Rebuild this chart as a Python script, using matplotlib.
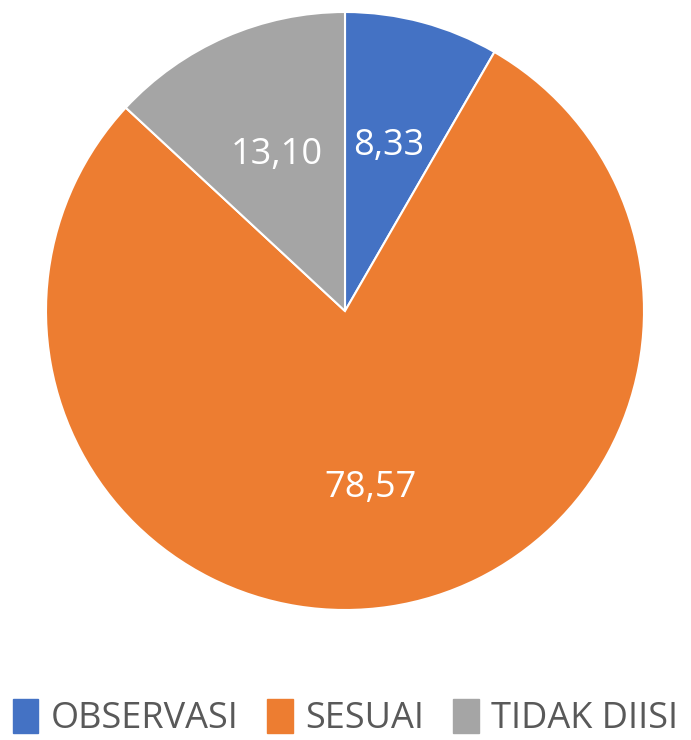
import matplotlib
matplotlib.use('Agg')
import matplotlib.pyplot as plt
from matplotlib.patches import Rectangle

categories = ['OBSERVASI', 'SESUAI', 'TIDAK DIISI']
values = [8.33, 78.57, 13.10]
colors = ['#4472C4', '#ED7D31', '#A5A5A5']

plt.rcParams['font.family'] = ['Open Sans', 'DejaVu Sans']

fig = plt.figure(figsize=(6.91, 7.40), dpi=100)
# pie centre ~ (345, 310) px, radius ~ 299 px
ax = fig.add_axes([46/691, 130/740, 598/691, 598/740])

labels = [('%.2f' % v).replace('.', ',') for v in values]
wedges, texts = ax.pie(values, colors=colors, startangle=90, counterclock=False,
                       labels=labels, labeldistance=0.57,
                       wedgeprops=dict(edgecolor='white', linewidth=1.5),
                       textprops=dict(color='white', fontsize=26))
for t in texts:
    t.set_ha('center')
    t.set_va('center')
# big slice label sits a bit lower in the original
x, y = texts[1].get_position()
texts[1].set_position((x, y - 0.03))
ax.set_xlim(-1, 1)
ax.set_ylim(-1, 1)
ax.set_aspect('equal')

handles = [Rectangle((0, 0), 1, 1, color=c) for c in colors]
leg = fig.legend(handles, categories, loc='center', bbox_to_anchor=(0.5, 22/740),
                 ncol=3, frameon=False, fontsize=26, handlelength=0.7, handleheight=1.1,
                 handletextpad=0.35, columnspacing=0.8)
for t in leg.get_texts():
    t.set_color('#595959')

fig.savefig('out.png', dpi=100)
